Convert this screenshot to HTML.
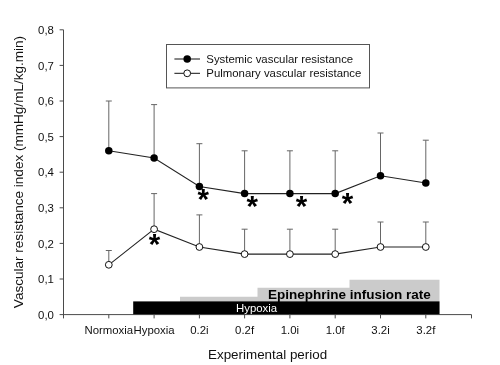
<!DOCTYPE html>
<html><head><meta charset="utf-8"><title>Vascular resistance index</title>
<style>
html,body{margin:0;padding:0;background:#fff;}
svg{display:block;font-family:"Liberation Sans",Arial,sans-serif;}
</style></head><body>
<svg width="500" height="365" viewBox="0 0 500 365">
<rect width="500" height="365" fill="#fff"/>

<path d="M180 315V296.7H257.5V287.7H349.5V279.7H439.5V315Z" fill="#cbcbcb"/>
<rect x="133.2" y="301.4" width="306.3" height="13.6" fill="#000"/>
<text x="256.6" y="312.4" font-size="11.4" fill="#fff" text-anchor="middle">Hypoxia</text>
<text x="349.4" y="299.3" font-size="13.5" font-weight="bold" fill="#000" text-anchor="middle">Epinephrine infusion rate</text>
<g stroke="#4a4a4a" stroke-width="1" fill="none">
<path d="M63.5 29.8V318.4M63.5 314.6H471.5V318.4"/>
<path d="M59.6 314.6H63.5"/>
<path d="M59.6 279.0H63.5"/>
<path d="M59.6 243.4H63.5"/>
<path d="M59.6 207.8H63.5"/>
<path d="M59.6 172.2H63.5"/>
<path d="M59.6 136.6H63.5"/>
<path d="M59.6 101.0H63.5"/>
<path d="M59.6 65.4H63.5"/>
<path d="M59.6 29.8H63.5"/>
<path d="M108.8 314.6V318.4"/>
<path d="M154.1 314.6V318.4"/>
<path d="M199.4 314.6V318.4"/>
<path d="M244.6 314.6V318.4"/>
<path d="M289.9 314.6V318.4"/>
<path d="M335.2 314.6V318.4"/>
<path d="M380.5 314.6V318.4"/>
<path d="M425.8 314.6V318.4"/>
</g>
<text x="53.9" y="318.8" font-size="11.4" fill="#111" text-anchor="end">0,0</text>
<text x="53.9" y="283.2" font-size="11.4" fill="#111" text-anchor="end">0,1</text>
<text x="53.9" y="247.6" font-size="11.4" fill="#111" text-anchor="end">0,2</text>
<text x="53.9" y="212.0" font-size="11.4" fill="#111" text-anchor="end">0,3</text>
<text x="53.9" y="176.4" font-size="11.4" fill="#111" text-anchor="end">0,4</text>
<text x="53.9" y="140.8" font-size="11.4" fill="#111" text-anchor="end">0,5</text>
<text x="53.9" y="105.2" font-size="11.4" fill="#111" text-anchor="end">0,6</text>
<text x="53.9" y="69.6" font-size="11.4" fill="#111" text-anchor="end">0,7</text>
<text x="53.9" y="34.0" font-size="11.4" fill="#111" text-anchor="end">0,8</text>
<text x="108.8" y="334.4" font-size="11.4" fill="#111" text-anchor="middle">Normoxia</text>
<text x="154.1" y="334.4" font-size="11.4" fill="#111" text-anchor="middle">Hypoxia</text>
<text x="199.4" y="334.4" font-size="11.4" fill="#111" text-anchor="middle">0.2i</text>
<text x="244.6" y="334.4" font-size="11.4" fill="#111" text-anchor="middle">0.2f</text>
<text x="289.9" y="334.4" font-size="11.4" fill="#111" text-anchor="middle">1.0i</text>
<text x="335.2" y="334.4" font-size="11.4" fill="#111" text-anchor="middle">1.0f</text>
<text x="380.5" y="334.4" font-size="11.4" fill="#111" text-anchor="middle">3.2i</text>
<text x="425.8" y="334.4" font-size="11.4" fill="#111" text-anchor="middle">3.2f</text>
<text x="267.6" y="359.2" font-size="13.4" fill="#111" text-anchor="middle">Experimental period</text>
<text transform="translate(22.6,172) rotate(-90)" font-size="13.56" fill="#111" text-anchor="middle">Vascular resistance index (mmHg/mL/kg.min)</text>
<g stroke="#666" stroke-width="1" fill="none">
<path d="M108.8 150.8V101.0M105.8 101.0H111.8"/>
<path d="M108.8 264.8V250.5M105.8 250.5H111.8"/>
<path d="M154.1 158.0V104.6M151.1 104.6H157.1"/>
<path d="M154.1 229.2V193.6M151.1 193.6H157.1"/>
<path d="M199.4 186.4V143.7M196.4 143.7H202.4"/>
<path d="M199.4 247.0V214.9M196.4 214.9H202.4"/>
<path d="M244.6 193.6V150.8M241.6 150.8H247.6"/>
<path d="M244.6 254.1V229.2M241.6 229.2H247.6"/>
<path d="M289.9 193.6V150.8M286.9 150.8H292.9"/>
<path d="M289.9 254.1V229.2M286.9 229.2H292.9"/>
<path d="M335.2 193.6V150.8M332.2 150.8H338.2"/>
<path d="M335.2 254.1V229.2M332.2 229.2H338.2"/>
<path d="M380.5 175.8V133.0M377.5 133.0H383.5"/>
<path d="M380.5 247.0V222.0M377.5 222.0H383.5"/>
<path d="M425.8 182.9V140.2M422.8 140.2H428.8"/>
<path d="M425.8 247.0V222.0M422.8 222.0H428.8"/>
</g>
<polyline points="108.8,150.8 154.1,158.0 199.4,186.4 244.6,193.6 289.9,193.6 335.2,193.6 380.5,175.8 425.8,182.9" fill="none" stroke="#222" stroke-width="1.05"/>
<polyline points="108.8,264.8 154.1,229.2 199.4,247.0 244.6,254.1 289.9,254.1 335.2,254.1 380.5,247.0 425.8,247.0" fill="none" stroke="#222" stroke-width="1.05"/>
<circle cx="108.8" cy="150.8" r="3.75" fill="#000"/>
<circle cx="108.8" cy="264.8" r="3.4" fill="#fff" stroke="#111" stroke-width="1"/>
<circle cx="154.1" cy="158.0" r="3.75" fill="#000"/>
<circle cx="154.1" cy="229.2" r="3.4" fill="#fff" stroke="#111" stroke-width="1"/>
<circle cx="199.4" cy="186.4" r="3.75" fill="#000"/>
<circle cx="199.4" cy="247.0" r="3.4" fill="#fff" stroke="#111" stroke-width="1"/>
<circle cx="244.6" cy="193.6" r="3.75" fill="#000"/>
<circle cx="244.6" cy="254.1" r="3.4" fill="#fff" stroke="#111" stroke-width="1"/>
<circle cx="289.9" cy="193.6" r="3.75" fill="#000"/>
<circle cx="289.9" cy="254.1" r="3.4" fill="#fff" stroke="#111" stroke-width="1"/>
<circle cx="335.2" cy="193.6" r="3.75" fill="#000"/>
<circle cx="335.2" cy="254.1" r="3.4" fill="#fff" stroke="#111" stroke-width="1"/>
<circle cx="380.5" cy="175.8" r="3.75" fill="#000"/>
<circle cx="380.5" cy="247.0" r="3.4" fill="#fff" stroke="#111" stroke-width="1"/>
<circle cx="425.8" cy="182.9" r="3.75" fill="#000"/>
<circle cx="425.8" cy="247.0" r="3.4" fill="#fff" stroke="#111" stroke-width="1"/>
<text x="154.6" y="253.9" font-size="29.5" font-weight="bold" fill="#000" text-anchor="middle">*</text>
<text x="203.2" y="208.8" font-size="29.5" font-weight="bold" fill="#000" text-anchor="middle">*</text>
<text x="252.3" y="216.1" font-size="29.5" font-weight="bold" fill="#000" text-anchor="middle">*</text>
<text x="301.6" y="216.1" font-size="29.5" font-weight="bold" fill="#000" text-anchor="middle">*</text>
<text x="347.5" y="212.9" font-size="29.5" font-weight="bold" fill="#000" text-anchor="middle">*</text>
<rect x="166.5" y="44.5" width="203" height="43.4" fill="#fff" stroke="#555" stroke-width="1"/>
<path d="M174.4 59H200M174.4 73.3H200" stroke="#111" stroke-width="1"/>
<circle cx="187.2" cy="59" r="3.75" fill="#000"/>
<circle cx="187.2" cy="73.3" r="3.4" fill="#fff" stroke="#111" stroke-width="1"/>
<text x="206.3" y="62.8" font-size="11.4" fill="#111">Systemic vascular resistance</text>
<text x="206.3" y="77.4" font-size="11.4" fill="#111">Pulmonary vascular resistance</text>
</svg></body></html>
